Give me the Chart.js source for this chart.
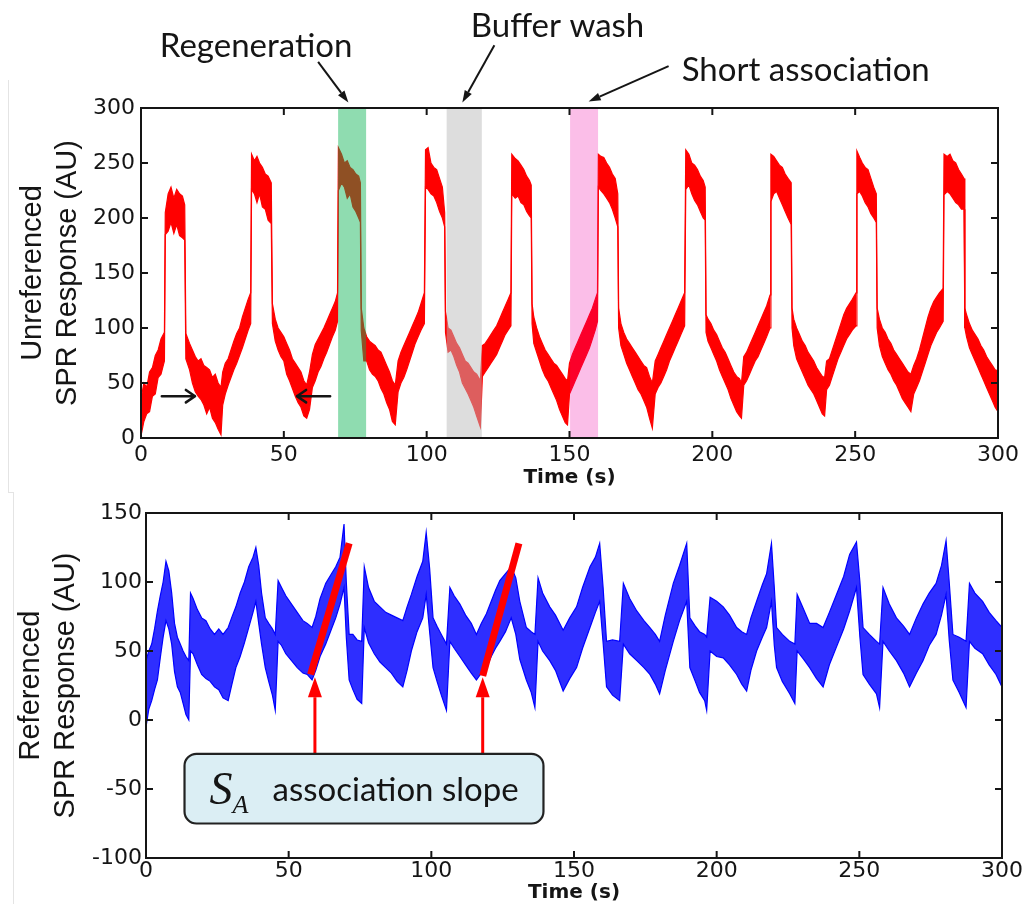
<!DOCTYPE html>
<html>
<head>
<meta charset="utf-8">
<title>SPR response</title>
<script src="https://cdn.jsdelivr.net/npm/chart.js@4.4.1/dist/chart.umd.min.js"></script>
<style>
  body { margin: 0; background: #fff; }
  #page { position: relative; width: 1028px; height: 907px; overflow: hidden; background: #fff; }
  #page canvas { position: absolute; left: 0; }
  #topChart { top: 0; }
  #bottomChart { top: 490px; }
  .edge { position: absolute; background: #e4e4e4; }
</style>
</head>
<body>
<div id="page">
  <canvas id="topChart" width="1028" height="490"></canvas>
  <canvas id="bottomChart" width="1028" height="417"></canvas>
  <div class="edge" style="left:8px;top:80px;width:1px;height:413px"></div>
  <div class="edge" style="left:8px;top:492px;width:6px;height:1px"></div>
  <div class="edge" style="left:13px;top:492px;width:1px;height:412px"></div>
</div>
<script>
// tick labels
const timeTicks = [0, 50, 100, 150, 200, 250, 300];
const topTicks = [0, 50, 100, 150, 200, 250, 300];
const bottomTicks = [-100, -50, 0, 50, 100, 150];

const timeTitle = 'Time (s)';
const topTitle = ['Unreferenced', 'SPR Response (AU)'];
const bottomTitle = ['Referenced', 'SPR Response (AU)'];

// unreferenced trace, read as the upper / lower edge of the noise band
const topTime = [
  0, 1, 2, 3, 4, 5, 6, 7, 8.2,
  8.5, 9.5, 10.5, 11.5, 12.5, 13.5, 14.5, 15.3,
  15.7, 17, 18, 19, 20, 21, 22, 23, 24, 25, 26, 27, 28,
  28.6, 29.5, 30.5, 31.5, 32.5, 33.5, 34.5, 35.5, 36.5, 37.5, 38.4,
  38.7, 39.7, 40.6, 41.5, 42.5, 43.5, 44.5, 45.6,
  46, 47, 48, 49, 50, 51, 52, 53, 54, 55, 56, 57, 58,
  59, 60, 61, 62, 63, 64, 65, 66, 67, 68, 68.8,
  69.1, 70.2, 71.2, 72.2, 73.2, 74.2, 75.2, 76.2, 76.8,
  77.1, 78, 79, 80, 81, 82, 83, 84, 85, 86, 87, 88, 89,
  90, 91, 92, 93, 94, 95, 96, 97, 98, 99.2,
  99.6, 100.5, 101.5, 102.5, 103.5, 104.5, 105.5, 106.3,
  106.6, 107.5, 108.5, 109.5, 110.5, 111.5, 112.5, 113.5, 114.5, 115.5, 116.5, 117.5, 118.8,
  119.5, 120.5, 121.5, 122.5, 123.5, 124.5, 125.5, 126.5, 127.5, 128.5, 129.5,
  129.8, 131, 132, 133, 134, 135, 136, 136.6,
  136.9, 137.5, 138.5, 139.5, 140.5, 141.5, 142.5, 143.5, 144.5, 145.5, 146.5, 147.5, 148.5, 149.3,
  150, 151, 152, 153, 154, 155, 156, 157, 158, 159, 159.8,
  160.1, 161, 162, 163, 164, 165, 166, 166.9,
  167.2, 168, 169, 170, 171, 172, 173, 174, 175, 176, 177, 178, 179,
  180, 181, 182, 183, 184, 185, 186, 187, 188, 189, 190.3,
  190.7, 191.8, 192.8, 193.8, 194.8, 195.8, 196.8, 197.5,
  197.8, 198.5, 199.5, 200.5, 201.5, 202.5, 203.5, 204.5, 205.5, 206.5, 207.5, 208.5, 209.5, 210.2,
  211, 212, 213, 214, 215, 216, 217, 218, 219, 220.2,
  220.5, 221.5, 222.5, 223.5, 224.5, 225.5, 226.5, 227.6,
  227.9, 228.5, 229.5, 230.5, 231.5, 232.5, 233.5, 234.5, 235.5, 236.5, 237.5, 238.5, 239.3,
  240, 241, 242, 243, 244, 245, 246, 247, 248, 249, 250.3,
  250.6, 251.6, 252.5, 253.5, 254.5, 255.5, 256.5, 257.4,
  257.7, 258.5, 259.5, 260.5, 261.5, 262.5, 263.5, 264.5, 265.5, 266.5, 267.5, 268.5, 269.5,
  270.5, 271.5, 272.5, 273.5, 274.5, 275.5, 276.5, 277.5, 278.5, 279.5, 280.8,
  281.1, 282.2, 283.2, 284.2, 285.2, 286.2, 287.2, 288.1,
  288.4, 289, 290, 291, 292, 293, 294, 295, 296, 297, 298, 299, 300
];
const topHigh = [
  35, 50, 46, 60, 64, 75, 80, 90, 96,
  205, 222, 228, 218, 226, 222, 220, 212,
  95, 86, 80, 74, 70, 72, 66, 64, 62, 55, 58, 50, 46,
  60, 68, 72, 80, 88, 95, 100, 110, 118, 126, 132,
  258, 252, 256, 250, 246, 240, 238, 232,
  122, 108, 100, 96, 92, 86, 80, 72, 68, 64, 60, 52, 48,
  60, 76, 85, 90, 95, 100, 106, 112, 118, 124, 132,
  264, 258, 250, 252, 246, 244, 240, 238, 232,
  118, 100, 92, 88, 86, 84, 80, 78, 72, 66, 60, 52, 48,
  70, 78, 84, 90, 96, 102, 108, 114, 122, 132,
  262, 264, 250, 246, 244, 236, 228, 205,
  115, 100, 98, 92, 86, 82, 76, 70, 68, 64, 60, 58, 52,
  84, 86, 90, 94, 98, 102, 108, 114, 120, 126, 132,
  258, 254, 252, 248, 244, 238, 234, 230,
  122, 110, 100, 92, 86, 80, 76, 72, 68, 66, 62, 58, 54, 52,
  68, 76, 82, 88, 94, 100, 106, 112, 118, 126, 132,
  258, 256, 255, 250, 246, 240, 236, 222,
  118, 104, 96, 90, 86, 82, 78, 74, 70, 66, 64, 56, 50,
  70, 76, 82, 88, 94, 100, 106, 112, 118, 124, 132,
  262, 258, 250, 248, 244, 238, 234, 228,
  112, 108, 104, 98, 94, 88, 82, 78, 72, 66, 60, 56, 54, 50,
  74, 78, 84, 90, 96, 102, 108, 114, 120, 130,
  258, 256, 252, 248, 246, 240, 236, 232,
  118, 108, 100, 94, 88, 84, 78, 74, 70, 64, 60, 56, 55,
  70, 72, 80, 88, 96, 104, 112, 118, 122, 126, 132,
  261, 255, 250, 246, 244, 236, 228, 222,
  118, 108, 100, 96, 90, 86, 80, 76, 72, 68, 64, 60, 58,
  66, 72, 80, 90, 100, 110, 118, 124, 128, 132, 136,
  258, 256, 258, 252, 250, 244, 240, 236,
  118, 112, 104, 98, 94, 90, 84, 80, 74, 70, 66, 62, 61
];
const topLow = [
  2, 15, 22, 24, 38, 40, 55, 58, 70,
  185, 188, 196, 186, 194, 184, 182, 180,
  72, 62, 50, 42, 38, 35, 30, 22, 28, 18, 14, 8, 3,
  30, 40, 48, 55, 62, 68, 75, 82, 90, 98, 104,
  226, 222, 214, 222, 210, 208, 198, 195,
  104, 88, 80, 74, 70, 58, 52, 45, 38, 32, 28, 20, 18,
  26, 46, 52, 60, 65, 72, 78, 85, 92, 98, 106,
  225, 232, 228, 218, 222, 210, 206, 200, 196,
  98, 70, 70, 62, 58, 56, 52, 45, 40, 32, 26, 15, 12,
  42, 50, 55, 62, 70, 78, 86, 92, 98, 104,
  228, 226, 222, 220, 214, 206, 200, 192,
  96, 78, 80, 74, 66, 60, 50, 45, 40, 34, 28, 20, 10,
  56, 60, 64, 68, 72, 76, 82, 88, 94, 98, 102,
  222, 218, 220, 214, 212, 206, 202, 200,
  104, 86, 78, 70, 62, 56, 52, 46, 40, 34, 26, 20, 14, 12,
  40, 46, 52, 58, 64, 70, 76, 82, 90, 98, 106,
  228, 225, 222, 218, 214, 208, 200, 192,
  100, 84, 76, 68, 62, 56, 50, 44, 40, 34, 28, 18, 9,
  40, 46, 50, 56, 62, 70, 76, 82, 88, 94, 102,
  226, 230, 222, 216, 212, 206, 200, 198,
  96, 88, 82, 76, 70, 62, 56, 50, 44, 36, 30, 24, 20, 18,
  48, 52, 58, 64, 70, 74, 80, 86, 92, 100,
  215, 222, 224, 218, 212, 206, 200, 194,
  100, 84, 72, 66, 60, 54, 48, 44, 40, 34, 28, 22, 20,
  44, 48, 56, 64, 72, 78, 84, 90, 94, 98, 102,
  222, 224, 220, 214, 210, 204, 200, 196,
  100, 84, 74, 68, 62, 58, 52, 48, 42, 36, 32, 28, 24,
  40, 46, 52, 60, 68, 76, 84, 90, 96, 100, 106,
  221, 224, 222, 218, 214, 212, 208, 208,
  100, 92, 82, 76, 70, 64, 58, 52, 46, 40, 34, 28, 24
];

// referenced trace, same reading
const bottomTime = [
  0, 1, 2, 3, 4, 5, 6, 7, 8, 9, 10, 11, 12, 13, 14, 15,
  15.6, 16.5, 18, 19.5, 21, 22.5, 24, 25.5, 27, 28.8,
  30, 31.5, 33, 34.5, 36, 37.5, 38.5, 39.5, 40.5, 41.8, 43, 44.3, 45.3,
  46.3, 47.5, 49, 51, 53, 55, 56.5, 58.2,
  59.5, 61, 63, 65, 66.5, 68, 69.4, 70.2, 71.2, 72.5, 74, 75.6,
  76.5, 78, 80, 82, 84, 86, 88, 90,
  91.5, 93, 95, 97, 98.2, 99.4, 100.6, 102, 103.5, 105.3,
  106.5, 108, 110, 112, 114, 115.8,
  117.5, 119.3, 121, 122.5, 124, 126, 128, 129.6, 131, 133.3, 135, 136.3,
  137.4, 139, 141.5, 143.5, 146.2,
  148.5, 150.9, 153, 155.6, 157.5, 159, 160.2, 161.4, 163.5, 166,
  167.3, 169.5, 172, 174.5, 176.6, 178.5, 180,
  182, 184.8, 187, 189.5, 190.6, 192.5, 194, 195.8, 196.5,
  197.7, 200, 202.3, 204.5, 207, 208.8, 210.5,
  212, 214, 216, 217.5, 219.2, 220.2, 221, 223, 225.6, 227.4,
  228.2, 230.5, 232.6, 235, 237.3,
  239.5, 242, 244.5, 246.6, 249, 250.2, 251.3, 253.5, 256, 257.1,
  258.3, 260.5, 263, 265.5, 267.6,
  270, 272.3, 274.5, 276.9, 278.8, 280.4, 281.5, 282.8, 285, 287.4,
  288.6, 290.5, 293.2, 295.5, 297.9, 300
];
const bottomHigh = [
  43, 50, 55, 66, 79, 90, 100, 115, 108, 92, 70, 60, 55, 50, 46, 43,
  92, 88, 80, 74, 72, 66, 62, 66, 62, 67,
  74, 82, 92, 100, 111, 118, 125, 112, 92, 74, 70, 66, 62,
  101, 96, 90, 84, 78, 72, 70, 67,
  75, 88, 99, 106, 111, 118, 142, 100, 62, 62, 58, 57,
  111, 96, 86, 82, 78, 76, 74, 72,
  82, 91, 104, 115, 136, 110, 74, 68, 62, 55,
  96, 90, 84, 76, 70, 62,
  70, 77, 86, 94, 101, 106, 111, 103, 86, 67, 64, 62,
  103, 92, 82, 76, 65,
  74, 82, 96, 111, 118, 128, 96, 57, 58, 57,
  99, 88, 79, 72, 67, 62, 57,
  76, 99, 112, 128, 74, 68, 64, 62, 60,
  89, 86, 82, 76, 67, 64, 62,
  74, 86, 98, 106, 128, 96, 67, 62, 57, 55,
  91, 80, 70, 70, 67,
  78, 91, 104, 120, 129, 100, 67, 62, 57, 55,
  96, 84, 74, 68, 62,
  74, 84, 92, 99, 112, 130, 100, 62, 60, 57,
  99, 92, 86, 78, 72, 67
];
const bottomLow = [
  -5, 8, 14, 22, 29, 45, 60, 72, 66, 55, 35, 24, 20, 12, 4, 0,
  50, 48, 40, 33, 30, 28, 24, 22, 16, 14,
  25, 38, 46, 56, 67, 78, 86, 70, 55, 38, 28, 18, 7,
  57, 54, 48, 43, 38, 34, 33, 29,
  36, 46, 55, 66, 74, 84, 96, 60, 29, 22, 15, 12,
  67, 56, 48, 42, 38, 34, 28, 24,
  36, 50, 64, 74, 91, 64, 38, 28, 18, 7,
  57, 52, 46, 40, 34, 29,
  34, 38, 46, 52, 57, 64, 74, 62, 44, 29, 20, 9,
  57, 50, 43, 36, 21,
  30, 38, 52, 67, 78, 86, 56, 24, 18, 14,
  55, 48, 43, 38, 33, 26, 19,
  36, 57, 72, 86, 38, 28, 20, 14, 7,
  50, 46, 45, 40, 33, 26, 21,
  36, 50, 60, 67, 86, 54, 38, 28, 19, 12,
  50, 44, 38, 30, 24,
  40, 53, 66, 79, 96, 60, 33, 26, 19, 9,
  57, 50, 43, 34, 24,
  34, 43, 54, 62, 76, 91, 58, 29, 20, 9,
  57, 52, 48, 40, 33, 24
];

// phases marked on the top trace (seconds)
const phaseNames = ['Regeneration', 'Buffer wash', 'Short association'];
const phaseStart = [69, 107, 150.2];
const phaseEnd = [78.8, 119.3, 160];
const phaseLabelTime = [40.3, 145.8, 232.7];
const phaseLabelValue = [346, 365, 325];
const phaseArrowFromTime = [62, 123.7, 184.7];
const phaseArrowFromValue = [342, 357, 338];
const phaseArrowToTime = [72.6, 112.5, 156.7];
const phaseArrowToValue = [305, 305, 306];

// black markers inside the top plot
const markerFrom = [7.3, 66.2];
const markerTo = [18.9, 54.6];
const markerLevel = 38;

// association slope fits on the referenced trace
const slopeStartTime = [57.7, 118];
const slopeStartValue = [33, 32];
const slopeEndTime = [71.2, 130.7];
const slopeEndValue = [128, 128];
const slopeArrowTime = [59.2, 118];
const slopeArrowTip = 31;
const noteBox = { from: 13.5, to: 139.3, top: -24.5, bottom: -75 };

const phaseColors = ['rgba(6, 178, 79, 0.45)', 'rgba(188, 188, 188, 0.5)', 'rgba(239, 0, 165, 0.255)'];
const tickFont = { family: 'DejaVu Sans', size: 22 };
const inkColor = '#151515';

function band(times, high, low, color, fillColor) {
    return [
        {
            data: times.map((t, i) => ({ x: t, y: low[i] })),
            borderColor: color, borderWidth: 1.2, pointRadius: 0, fill: false, order: 1
        },
        {
            data: times.map((t, i) => ({ x: t, y: high[i] })),
            borderColor: color, borderWidth: 1.2, pointRadius: 0, fill: '-1',
            backgroundColor: fillColor, order: 1
        }
    ];
}

function arrowHead(ctx, x0, y0, x1, y1, headLen, headWidth, lineWidth) {
    const ang = Math.atan2(y1 - y0, x1 - x0);
    const bx = x1 - headLen * Math.cos(ang);
    const by = y1 - headLen * Math.sin(ang);
    ctx.lineWidth = lineWidth;
    ctx.beginPath();
    ctx.moveTo(x0, y0);
    ctx.lineTo(bx, by);
    ctx.stroke();
    ctx.beginPath();
    ctx.moveTo(x1, y1);
    ctx.lineTo(bx + headWidth / 2 * Math.sin(ang), by - headWidth / 2 * Math.cos(ang));
    ctx.lineTo(bx - headWidth / 2 * Math.sin(ang), by + headWidth / 2 * Math.cos(ang));
    ctx.closePath();
    ctx.fill();
}

function chevronArrow(ctx, x0, y0, x1, y1) {
    const ang = Math.atan2(y1 - y0, x1 - x0);
    ctx.lineWidth = 2.6;
    ctx.lineCap = 'round';
    ctx.beginPath();
    ctx.moveTo(x0, y0);
    ctx.lineTo(x1, y1);
    [0.6, -0.6].forEach(d => {
        ctx.moveTo(x1, y1);
        ctx.lineTo(x1 - 11 * Math.cos(ang + d), y1 - 11 * Math.sin(ang + d));
    });
    ctx.stroke();
}

// MATLAB style box with inward ticks
const framePlugin = {
    id: 'frame',
    afterDraw(chart) {
        const { ctx, chartArea: a, scales: { x, y } } = chart;
        ctx.save();
        ctx.strokeStyle = inkColor;
        ctx.lineWidth = 2;
        ctx.strokeRect(a.left, a.top, a.right - a.left, a.bottom - a.top);
        ctx.beginPath();
        x.ticks.forEach(tk => {
            const px = x.getPixelForValue(tk.value);
            ctx.moveTo(px, a.bottom); ctx.lineTo(px, a.bottom - 7);
            ctx.moveTo(px, a.top); ctx.lineTo(px, a.top + 7);
        });
        y.ticks.forEach(tk => {
            const py = y.getPixelForValue(tk.value);
            ctx.moveTo(a.left, py); ctx.lineTo(a.left + 7, py);
            ctx.moveTo(a.right, py); ctx.lineTo(a.right - 7, py);
        });
        ctx.stroke();
        ctx.restore();
    }
};

const phasePlugin = {
    id: 'phases',
    afterDatasetsDraw(chart) {
        const { ctx, chartArea: a, scales: { x } } = chart;
        ctx.save();
        phaseNames.forEach((name, i) => {
            const x0 = x.getPixelForValue(phaseStart[i]);
            const x1 = x.getPixelForValue(phaseEnd[i]);
            ctx.fillStyle = phaseColors[i];
            ctx.fillRect(x0, a.top + 1, x1 - x0, a.bottom - a.top - 2);
        });
        ctx.restore();
    },
    afterDraw(chart) {
        const { ctx, scales: { x, y } } = chart;
        ctx.save();
        ctx.fillStyle = inkColor;
        ctx.strokeStyle = inkColor;
        ctx.font = '33px Lato';
        ctx.textAlign = 'center';
        ctx.textBaseline = 'alphabetic';
        phaseNames.forEach((name, i) => {
            ctx.fillText(name, x.getPixelForValue(phaseLabelTime[i]), y.getPixelForValue(phaseLabelValue[i]));
            arrowHead(ctx,
                x.getPixelForValue(phaseArrowFromTime[i]), y.getPixelForValue(phaseArrowFromValue[i]),
                x.getPixelForValue(phaseArrowToTime[i]), y.getPixelForValue(phaseArrowToValue[i]),
                12, 8, 2);
        });
        markerFrom.forEach((t, i) => {
            chevronArrow(ctx,
                x.getPixelForValue(t), y.getPixelForValue(markerLevel),
                x.getPixelForValue(markerTo[i]), y.getPixelForValue(markerLevel));
        });
        ctx.restore();
    }
};

const slopePlugin = {
    id: 'slopeNote',
    afterDraw(chart) {
        const { ctx, scales: { x, y } } = chart;
        ctx.save();
        ctx.fillStyle = '#ff0000';
        ctx.strokeStyle = '#ff0000';
        const boxTop = y.getPixelForValue(noteBox.top);
        slopeArrowTime.forEach(t => {
            const px = x.getPixelForValue(t);
            arrowHead(ctx, px, boxTop, px, y.getPixelForValue(slopeArrowTip), 20, 14, 3);
        });

        const left = x.getPixelForValue(noteBox.from);
        const right = x.getPixelForValue(noteBox.to);
        const bottom = y.getPixelForValue(noteBox.bottom);
        ctx.beginPath();
        ctx.roundRect(left, boxTop, right - left, bottom - boxTop, 12);
        ctx.fillStyle = '#dbeef4';
        ctx.fill();
        ctx.lineWidth = 2.2;
        ctx.strokeStyle = '#222';
        ctx.stroke();

        const mid = (boxTop + bottom) / 2;
        ctx.fillStyle = inkColor;
        ctx.textBaseline = 'alphabetic';
        ctx.textAlign = 'left';
        ctx.font = 'italic 46px "Liberation Serif"';
        ctx.fillText('S', left + 25, mid + 15);
        ctx.font = 'italic 26px "Liberation Serif"';
        ctx.fillText('A', left + 48, mid + 24);
        ctx.font = '33px Lato';
        ctx.fillText('association slope', left + 88, mid + 12);
        ctx.restore();
    }
};

function makeChart(id, datasets, yTicks, yTitle, layout, plugins) {
    return new Chart(document.getElementById(id), {
        type: 'line',
        data: { datasets: datasets },
        options: {
            responsive: false,
            animation: false,
            layout: { padding: layout.padding },
            plugins: { legend: { display: false }, tooltip: { enabled: false } },
            scales: {
                x: {
                    type: 'linear',
                    min: timeTicks[0],
                    max: timeTicks[timeTicks.length - 1],
                    afterBuildTicks: s => { s.ticks = timeTicks.map(v => ({ value: v })); },
                    afterFit: s => { s.height = layout.xHeight; },
                    grid: { display: false, drawTicks: false },
                    border: { display: false },
                    ticks: { font: tickFont, color: inkColor, padding: layout.xPad, maxRotation: 0, autoSkip: false },
                    title: {
                        display: true, text: timeTitle, color: inkColor,
                        font: { family: 'DejaVu Sans', size: 20, weight: 'bold' },
                        padding: { top: 0, bottom: layout.titlePad }
                    }
                },
                y: {
                    min: yTicks[0],
                    max: yTicks[yTicks.length - 1],
                    afterBuildTicks: s => { s.ticks = yTicks.map(v => ({ value: v })); },
                    afterFit: s => { s.width = layout.yWidth; },
                    grid: { display: false, drawTicks: false },
                    border: { display: false },
                    ticks: { font: tickFont, color: inkColor, padding: layout.yPad },
                    title: {
                        display: true, text: yTitle, color: inkColor,
                        font: { family: 'Liberation Sans', size: 29, lineHeight: 1.2 },
                        padding: { top: layout.yTitlePad, bottom: 0 }
                    }
                }
            }
        },
        plugins: plugins
    });
}

const topDatasets = band(topTime, topHigh, topLow, '#ff0000', '#ff0000');
makeChart('topChart', topDatasets, topTicks, topTitle,
    { padding: { left: 0, right: 30, top: 108, bottom: 0 }, xHeight: 52, yWidth: 141, xPad: 4, yPad: 6, titlePad: 0, yTitlePad: 16 },
    [phasePlugin, framePlugin]);

const bottomDatasets = band(bottomTime, bottomHigh, bottomLow, '#0000ff', 'rgba(0, 0, 255, 0.82)');
slopeStartTime.forEach((t, i) => {
    bottomDatasets.push({
        data: [{ x: t, y: slopeStartValue[i] }, { x: slopeEndTime[i], y: slopeEndValue[i] }],
        borderColor: '#ff0000', borderWidth: 7, pointRadius: 0, fill: false, order: 0
    });
});
makeChart('bottomChart', bottomDatasets, bottomTicks, bottomTitle,
    { padding: { left: 0, right: 26, top: 23, bottom: 0 }, xHeight: 49, yWidth: 146, xPad: 0, yPad: 4, titlePad: 2, yTitlePad: 14 },
    [slopePlugin, framePlugin]);
</script>
</body>
</html>
